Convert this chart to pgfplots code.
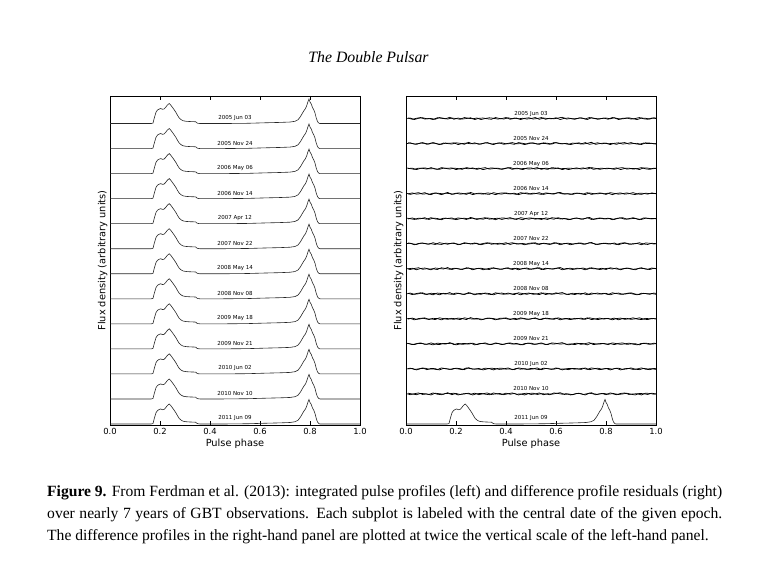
\documentclass[border=0pt]{standalone}
\usepackage{pgfplots}
\pgfplotsset{compat=1.18}
\usepackage{pgfplotstable}
\usepackage{fontspec}
\setmainfont{Liberation Serif}
\newfontfamily\dejavu{DejaVu Sans}

\pgfplotstableread{
x y
0.000 0.00
0.165 0.00
0.172 0.02
0.178 0.25
0.184 0.45
0.190 0.54
0.197 0.58
0.203 0.60
0.210 0.57
0.216 0.58
0.222 0.64
0.228 0.72
0.232 0.76
0.237 0.80
0.242 0.75
0.248 0.67
0.256 0.56
0.264 0.44
0.270 0.33
0.277 0.22
0.285 0.15
0.293 0.11
0.305 0.09
0.320 0.08
0.335 0.075
0.343 0.07
0.347 0.03
0.352 0.01
0.360 0.00
0.450 0.00
0.550 0.01
0.620 0.03
0.680 0.045
0.720 0.06
0.740 0.09
0.752 0.15
0.762 0.28
0.770 0.42
0.776 0.52
0.782 0.60
0.787 0.72
0.792 0.88
0.796 0.98
0.800 0.86
0.805 0.78
0.810 0.64
0.815 0.55
0.820 0.42
0.825 0.22
0.830 0.08
0.835 0.02
0.840 0.00
1.000 0.00
}\prof

\pgfplotstableread{
x a b c d
0 .02 -.01 .03 .00
.0167 -.03 .03 .00 .02
.0333 .01 -.02 -.03 -.04
.05 .04 .00 .02 .01
.0667 -.02 .04 .01 .03
.0833 .00 -.03 -.02 -.01
.1 -.04 .02 .04 .00
.1167 .03 .01 -.01 -.03
.1333 .01 -.04 -.03 .04
.15 -.01 .02 .02 .01
.1667 .05 .00 .01 -.02
.1833 -.03 -.02 .03 .02
.2 .02 .03 -.04 .00
.2167 -.02 .01 .00 -.03
.2333 .00 -.03 .02 .04
.25 .03 .05 -.01 .01
.2667 -.04 -.01 .03 -.01
.2833 .01 .00 -.03 .02
.3 .02 -.02 .01 -.04
.3167 -.01 .03 .04 .00
.3333 -.03 .01 -.02 .03
.35 .04 -.04 .00 .01
.3667 .00 .02 .02 -.02
.3833 -.02 .03 -.03 .00
.4 .03 -.01 .01 .04
.4167 -.01 .00 .04 -.03
.4333 .02 -.03 -.01 .02
.45 -.04 .04 .00 -.01
.4667 .01 .01 -.04 .01
.4833 .03 -.02 .02 -.02
.5 -.02 .02 .03 .00
.5167 .00 .00 -.02 .04
.5333 .04 -.03 .01 -.03
.55 -.03 .03 .00 .02
.5667 .01 .01 -.03 .00
.5833 -.01 -.02 .04 -.01
.6 .02 .04 .02 .03
.6167 .05 -.01 -.01 -.04
.6333 -.02 .00 .01 .01
.65 .00 -.03 -.04 .02
.6667 -.03 .02 .00 -.01
.6833 .02 .01 .03 .00
.7 .01 -.02 -.02 .03
.7167 -.04 .04 .01 -.02
.7333 .03 -.03 .05 .04
.75 .00 .00 -.03 .01
.7667 -.01 .03 .00 -.03
.7833 .02 -.01 .02 .00
.8 -.03 .02 -.01 .02
.8167 .04 -.04 .01 -.01
.8333 .01 .01 -.03 .03
.85 -.02 .03 .02 -.04
.8667 .00 -.02 .04 .01
.8833 .03 .00 -.02 .02
.9 -.01 .04 .00 -.02
.9167 -.04 -.01 .01 .00
.9333 .02 -.03 -.04 .04
.95 .01 .02 .03 -.01
.9667 -.02 .00 .02 -.03
.9833 .03 .01 -.01 .02
1 .00 -.02 .01 .00
}\resid

\pgfplotsset{
  panel/.style={
    scale only axis, width=250pt, height=329pt,
    xmin=0, xmax=1, ymin=-0.04, ymax=13.1,
    xtick={0,0.2,0.4,0.6,0.8,1.0},
    ytick=\empty,
    tick align=inside, major tick length=4pt,
    axis line style={line width=0.8pt},
    every tick/.style={black, line width=0.6pt},
    xticklabel style={/pgf/number format/.cd, fixed, fixed zerofill, precision=1},
    /pgf/number format/assume math mode=true,
    tick label style={font=\dejavu\fontsize{8.4}{10}\selectfont},
    label style={font=\dejavu\fontsize{9.8}{12}\selectfont},
    xlabel={Pulse phase},
    ylabel={Flux density (arbitrary units)},
    xlabel style={yshift=3pt},
    ylabel style={yshift=-1pt},
  },
  resid/.style={black, line width=0.7pt},
}
\tikzset{datelbl/.style={font=\dejavu\fontsize{5.5}{6}\selectfont, inner sep=0pt}}

\begin{document}
\begin{tikzpicture}[x=1pt,y=1pt]
\path[use as bounding box] (0,0) rectangle (770,563);
\node[font=\fontsize{15.8}{18}\selectfont\itshape] at (368.5,506) {The Double Pulsar};

% left panel
\begin{axis}[panel, at={(110pt,138pt)}, anchor=south west]
\pgfplotsinvokeforeach{0,...,12}{
  \addplot[black!85, line width=0.6pt] table[x=x, y expr=\thisrow{y}+#1] {\prof};
}
\node[datelbl] at (axis cs:0.5,12.22) {2005 Jun 03};
\node[datelbl] at (axis cs:0.5,11.22) {2005 Nov 24};
\node[datelbl] at (axis cs:0.5,10.22) {2006 May 06};
\node[datelbl] at (axis cs:0.5,9.22) {2006 Nov 14};
\node[datelbl] at (axis cs:0.5,8.22) {2007 Apr 12};
\node[datelbl] at (axis cs:0.5,7.22) {2007 Nov 22};
\node[datelbl] at (axis cs:0.5,6.22) {2008 May 14};
\node[datelbl] at (axis cs:0.5,5.22) {2008 Nov 08};
\node[datelbl] at (axis cs:0.5,4.22) {2009 May 18};
\node[datelbl] at (axis cs:0.5,3.22) {2009 Nov 21};
\node[datelbl] at (axis cs:0.5,2.22) {2010 Jun 02};
\node[datelbl] at (axis cs:0.5,1.22) {2010 Nov 10};
\node[datelbl] at (axis cs:0.5,0.22) {2011 Jun 09};
\end{axis}

% right panel
\begin{axis}[panel, at={(406pt,138pt)}, anchor=south west]
\addplot[black!85, line width=0.6pt] table[x=x, y=y] {\prof};
\addplot[resid] table[x=x, y expr=\thisrow{a}+1.2] {\resid};
\addplot[resid] table[x expr=\thisrow{x}+0.0083, y expr=\thisrow{c}+1.2] {\resid};
\addplot[resid] table[x=x, y expr=\thisrow{b}+2.2] {\resid};
\addplot[resid] table[x expr=\thisrow{x}+0.0083, y expr=\thisrow{d}+2.2] {\resid};
\addplot[resid] table[x=x, y expr=\thisrow{c}+3.2] {\resid};
\addplot[resid] table[x expr=\thisrow{x}+0.0083, y expr=\thisrow{a}+3.2] {\resid};
\addplot[resid] table[x=x, y expr=\thisrow{d}+4.2] {\resid};
\addplot[resid] table[x expr=\thisrow{x}+0.0083, y expr=\thisrow{b}+4.2] {\resid};
\addplot[resid] table[x=x, y expr=\thisrow{b}+5.2] {\resid};
\addplot[resid] table[x expr=\thisrow{x}+0.0083, y expr=\thisrow{a}+5.2] {\resid};
\addplot[resid] table[x=x, y expr=\thisrow{a}+6.2] {\resid};
\addplot[resid] table[x expr=\thisrow{x}+0.0083, y expr=\thisrow{d}+6.2] {\resid};
\addplot[resid] table[x=x, y expr=\thisrow{d}+7.2] {\resid};
\addplot[resid] table[x expr=\thisrow{x}+0.0083, y expr=\thisrow{c}+7.2] {\resid};
\addplot[resid] table[x=x, y expr=\thisrow{c}+8.2] {\resid};
\addplot[resid] table[x expr=\thisrow{x}+0.0083, y expr=\thisrow{b}+8.2] {\resid};
\addplot[resid] table[x=x, y expr=\thisrow{a}+9.2] {\resid};
\addplot[resid] table[x expr=\thisrow{x}+0.0083, y expr=\thisrow{b}+9.2] {\resid};
\addplot[resid] table[x=x, y expr=\thisrow{c}+10.2] {\resid};
\addplot[resid] table[x expr=\thisrow{x}+0.0083, y expr=\thisrow{d}+10.2] {\resid};
\addplot[resid] table[x=x, y expr=\thisrow{b}+11.2] {\resid};
\addplot[resid] table[x expr=\thisrow{x}+0.0083, y expr=\thisrow{c}+11.2] {\resid};
\addplot[resid] table[x=x, y expr=\thisrow{d}+12.2] {\resid};
\addplot[resid] table[x expr=\thisrow{x}+0.0083, y expr=\thisrow{a}+12.2] {\resid};
\node[datelbl] at (axis cs:0.5,12.4) {2005 Jun 03};
\node[datelbl] at (axis cs:0.5,11.4) {2005 Nov 24};
\node[datelbl] at (axis cs:0.5,10.4) {2006 May 06};
\node[datelbl] at (axis cs:0.5,9.4) {2006 Nov 14};
\node[datelbl] at (axis cs:0.5,8.4) {2007 Apr 12};
\node[datelbl] at (axis cs:0.5,7.4) {2007 Nov 22};
\node[datelbl] at (axis cs:0.5,6.4) {2008 May 14};
\node[datelbl] at (axis cs:0.5,5.4) {2008 Nov 08};
\node[datelbl] at (axis cs:0.5,4.4) {2009 May 18};
\node[datelbl] at (axis cs:0.5,3.4) {2009 Nov 21};
\node[datelbl] at (axis cs:0.5,2.4) {2010 Jun 02};
\node[datelbl] at (axis cs:0.5,1.4) {2010 Nov 10};
\node[datelbl] at (axis cs:0.5,0.22) {2011 Jun 09};
\end{axis}

\node[anchor=north west, inner sep=0pt, text width=675pt, align=justify,
      font=\fontsize{15.6}{22}\selectfont] at (47,78)
{\textbf{Figure 9.} From Ferdman et al. (2013): integrated pulse profiles (left) and difference profile residuals (right)\linebreak
over nearly 7 years of GBT observations. Each subplot is labeled with the central date of the given epoch.\linebreak
The difference profiles in the right-hand panel are plotted at twice the vertical scale of the left-hand panel.};
\end{tikzpicture}
\end{document}
